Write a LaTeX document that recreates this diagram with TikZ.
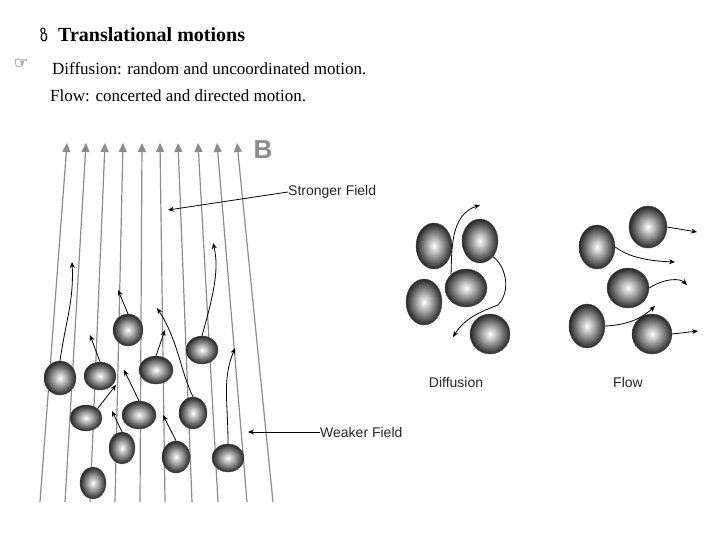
\documentclass[tikz,border=0pt]{standalone}
\usepackage{fontspec}
\setmainfont{Liberation Serif}
\newfontfamily\dejavu{DejaVu Sans}
\newfontfamily\lsans{Liberation Sans}
\usetikzlibrary{shapes.geometric,arrows.meta}
\begin{document}
\begin{tikzpicture}[x=1pt,y=-1pt,
  ball/.style={ellipse,inner sep=0pt,inner color=white,outer color=black!85,draw=black!70,line width=0.4pt},
  fl/.style={draw=black!45,line width=1.2pt,-{Triangle[length=9pt,width=8pt,fill=black!45]}},
  tr/.style={draw=black,line width=0.8pt,-{Stealth[length=6pt,width=5pt]}},
  lab/.style={font=\lsans\fontsize{14}{16}\selectfont,text=black!85,anchor=west,inner sep=0pt}]
\useasboundingbox (0,0) rectangle (720,540);
% header texts
\node[anchor=west,inner sep=0pt] (sym) at (40,35) {\dejavu\fontsize{16}{18}\selectfont ზ};
\node[anchor=west,inner sep=0pt] (t1) at (58,35) {\fontsize{20}{24}\selectfont\bfseries Translational motions};
\node[anchor=west,inner sep=0pt] (hand) at (14,64) {\dejavu\fontsize{16}{18}\selectfont ☞};
\node[anchor=west,inner sep=0pt] (t2) at (52,69) {\fontsize{17}{20}\selectfont Diffusion: random and uncoordinated motion.};
\node[anchor=west,inner sep=0pt] (t3) at (50,96) {\fontsize{17}{20}\selectfont Flow: concerted and directed motion.};
% field lines
\foreach \i/\xb/\xt in {1/40/67,2/65/86,3/90/105,4/115/123,5/140/142,6/165/160,7/192/178,8/218/198,9/247/217,10/273/237}{
  \coordinate (b\i) at (\xb,502);
  \coordinate (t\i) at (\xt,143);
  \draw[fl] (b\i) -- (t\i);
}
\node[anchor=center,inner sep=0pt,text=black!45] (B) at (263,150) {\lsans\bfseries\fontsize{26}{28}\selectfont B};
% particles left
\foreach \n/\x/\y/\rx/\ry in {p1/128/330/15/16,p2/60/378/16/17,p3/100/376/16/14,p4/156/370/17/14,p5/202/350/16/14,p6/86/418/16/13,p7/139/415/17/14,p8/193/413/14/16,p9/122/448/13/16,p10/176/457/14/16,p11/228/458/16/14,p12/93/483/13/16}{
  \node[ball,minimum width=2*\rx pt,minimum height=2*\ry pt] (\n) at (\x,\y) {};
}
\draw[tr] (p2.north) .. controls (66,320) and (74,300) .. (72,262);
\draw[tr] (p3.north) -- (90,335);
\draw[tr] (p1.north) -- (118,290);
\draw[tr] (p6.north east) -- (116,385);
\draw[tr] (p9.north) -- (112,411);
\draw[tr] (p7.north) -- (124,370);
\draw[tr] (p4.north) -- (165,330);
\draw[tr] (p8.north) .. controls (180,370) and (178,340) .. (157,308);
\draw[tr] (p10.north) -- (163,415);
\draw[tr] (p5.north) .. controls (212,300) and (220,270) .. (213,243);
\draw[tr] (p11.north) .. controls (228,400) and (222,380) .. (235,348);
% labels left
\node[lab] (sf) at (288,192) {Stronger Field};
\draw[tr] (sf.west) -- (168,210);
\node[lab] (wf) at (320,432) {Weaker Field};
\draw[tr] (wf.west) -- (248,432);
% diffusion
\foreach \n/\x/\y/\rx/\ry in {a/434/246/18/23,b/480/241/18/22,c/466/288/21/19,d/424/302/18/23,e/490/334/20/20}{
  \node[ball,minimum width=2*\rx pt,minimum height=2*\ry pt] (\n) at (\x,\y) {};
}
\draw[tr] (c.north west) .. controls (452,250) and (450,215) .. (480,205);
\draw[tr] (b.south east) .. controls (505,265) and (512,290) .. (498,305) .. controls (480,312) and (465,318) .. (453,337);
\node[lab,anchor=center] (dl) at (456,382) {Diffusion};
% flow
\foreach \n/\x/\y/\rx/\ry in {f/597/247/18/22,g/648/227/19/21,h/628/288/21/20,i/587/326/18/22,j/652/334/20/20}{
  \node[ball,minimum width=2*\rx pt,minimum height=2*\ry pt] (\n) at (\x,\y) {};
}
\draw[tr] (g.east) -- (697,232);
\draw[tr] (f.east) .. controls (630,258) and (650,261) .. (675,262);
\draw[tr] (h.east) .. controls (665,278) and (680,278) .. (687,285);
\draw[tr] (i.east) .. controls (625,325) and (640,320) .. (655,306);
\draw[tr] (j.east) -- (698,331);
\node[lab,anchor=center] (fll) at (628,382) {Flow};
\end{tikzpicture}
\end{document}
